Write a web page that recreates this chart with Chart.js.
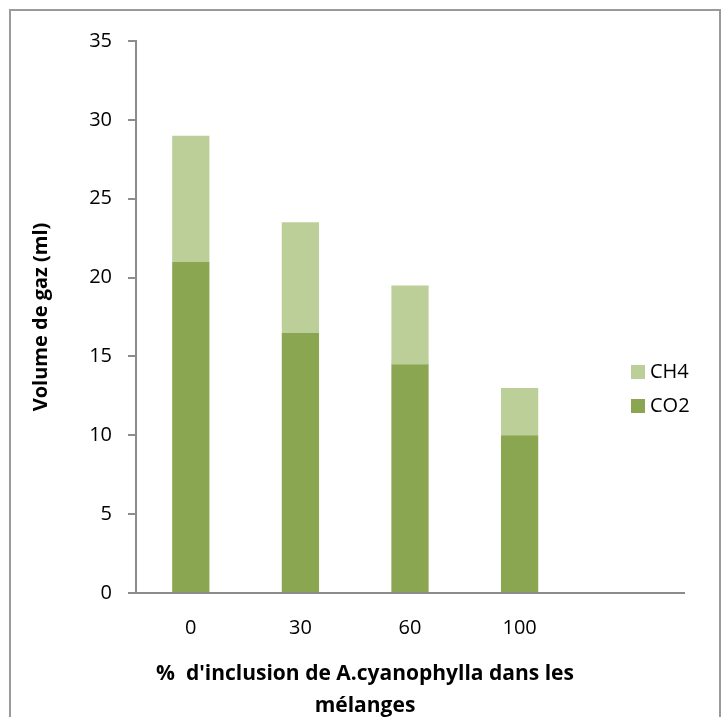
<!DOCTYPE html>
<html>
<head>
<meta charset="utf-8">
<script src="https://cdn.jsdelivr.net/npm/chart.js@4"></script>
<style>
    html, body { margin: 0; padding: 0; background: #fff; }
    #frame { position: absolute; left: 9px; top: 9px; width: 712px; height: 740px; border: 2px solid #9a9a9a; box-sizing: border-box; }
    #myChart { position: absolute; left: 0; top: 0; }
</style>
</head>
<body>
<div id="frame"></div>
<canvas id="myChart" width="725" height="717"></canvas>
<script>
// gas volumes per mixture, stacked CO2 + CH4
const categories = ['0', '30', '60', '100', ''];
const co2Values = [21, 16.5, 14.5, 10, null];
const ch4Values = [8, 7, 5, 3, null];
const yMax = 35;
const yStep = 5;
const yTitle = 'Volume de gaz (ml)';
const xTitleLines = ["%  d'inclusion de A.cyanophylla dans les", 'mélanges'];

const FONT = '"Open Sans", Lato, sans-serif';
const AXIS_GREY = '#8c8c8c';

// legend on the right, CH4 above CO2
const sideLegend = {
    id: 'sideLegend',
    afterDraw(chart) {
        const ctx = chart.ctx;
        const items = chart.data.datasets.slice().reverse();
        ctx.save();
        ctx.font = '20px ' + FONT;
        ctx.textBaseline = 'middle';
        ctx.textAlign = 'left';
        items.forEach((ds, i) => {
            const y = 372 + i * 34;
            ctx.fillStyle = ds.backgroundColor;
            ctx.fillRect(631, y - 7, 14, 14);
            ctx.fillStyle = '#000';
            ctx.fillText(ds.label, 650, y);
        });
        ctx.restore();
    }
};

// x axis title, centred on the whole frame
const bottomTitle = {
    id: 'bottomTitle',
    afterDraw(chart) {
        const ctx = chart.ctx;
        ctx.save();
        ctx.font = 'bold 21px ' + FONT;
        ctx.textBaseline = 'middle';
        ctx.textAlign = 'center';
        ctx.fillStyle = '#000';
        xTitleLines.forEach((line, i) => {
            ctx.fillText(line, 365, 674 + i * 32);
        });
        ctx.restore();
    }
};

function createChart() {
    const ctx = document.getElementById('myChart').getContext('2d');
    new Chart(ctx, {
        type: 'bar',
        data: {
            labels: categories,
            datasets: [{
                label: 'CO2',
                data: co2Values,
                backgroundColor: '#8ba651',
                borderWidth: 0
            }, {
                label: 'CH4',
                data: ch4Values,
                backgroundColor: '#bccf98',
                borderWidth: 0
            }]
        },
        options: {
            responsive: false,
            animation: false,
            layout: {
                padding: { left: 9, right: 41, top: 41, bottom: 0 }
            },
            plugins: {
                legend: { display: false },
                tooltip: { enabled: false }
            },
            datasets: {
                bar: { categoryPercentage: 1, barPercentage: 0.34 }
            },
            scales: {
                x: {
                    stacked: true,
                    afterFit: (scale) => { scale.height = 124; },
                    grid: { display: false, drawTicks: false },
                    border: { display: true, color: AXIS_GREY, width: 2 },
                    ticks: {
                        padding: 23,
                        color: '#000',
                        font: { family: FONT, size: 20 }
                    }
                },
                y: {
                    stacked: true,
                    min: 0,
                    max: yMax,
                    afterFit: (scale) => { scale.width = 127; },
                    grid: {
                        drawOnChartArea: false,
                        drawTicks: true,
                        tickLength: 8,
                        color: AXIS_GREY,
                        lineWidth: 2
                    },
                    border: { display: true, color: AXIS_GREY, width: 2 },
                    ticks: {
                        stepSize: yStep,
                        padding: 16,
                        color: '#000',
                        font: { family: FONT, size: 20 }
                    },
                    title: {
                        display: true,
                        text: yTitle,
                        color: '#000',
                        padding: { top: 20, bottom: 0 },
                        font: { family: FONT, size: 20, weight: 'bold' }
                    }
                }
            }
        },
        plugins: [sideLegend, bottomTitle]
    });
}

window.onload = createChart;
</script>
</body>
</html>
